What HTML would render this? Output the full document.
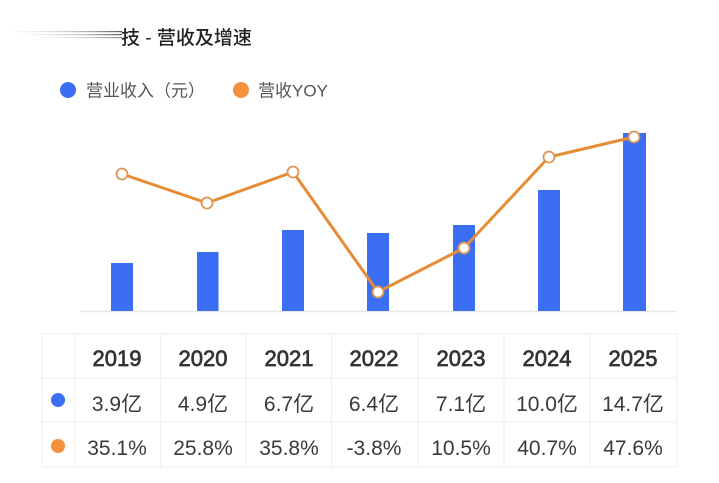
<!DOCTYPE html>
<html>
<head>
<meta charset="utf-8">
<style>
html,body{margin:0;padding:0;background:#fff;}
body{width:719px;height:483px;overflow:hidden;}
svg{display:block;}
text{font-family:"Liberation Sans","Noto Sans CJK SC",sans-serif;}
</style>
</head>
<body>
<svg width="719" height="483" viewBox="0 0 719 483" xmlns="http://www.w3.org/2000/svg">
  <defs>
    <linearGradient id="blur" x1="0" x2="1" y1="0" y2="0">
      <stop offset="0" stop-color="#bbb" stop-opacity="0"/>
      <stop offset="0.6" stop-color="#999" stop-opacity="0.6"/>
      <stop offset="1" stop-color="#444" stop-opacity="0.9"/>
    </linearGradient>
  </defs>
  <!-- blurred title prefix -->
  <rect x="8" y="31" width="114" height="1.2" fill="url(#blur)"/>
  <rect x="20" y="34" width="102" height="1.2" fill="url(#blur)"/>
  <rect x="30" y="37" width="92" height="1.2" fill="url(#blur)" opacity="0.7"/>
  <text x="121" y="44" font-size="19" fill="#222" font-weight="500">技 - 营收及增速</text>

  <!-- legend -->
  <circle cx="68" cy="90" r="8" fill="#3B6EF3"/>
  <text x="86" y="96.5" font-size="17" fill="#555">营业收入（元）</text>
  <circle cx="241" cy="90" r="8" fill="#F5913C"/>
  <text x="258" y="96.5" font-size="17" fill="#555">营收YOY</text>

  <!-- baseline -->
  <line x1="80" y1="311.5" x2="677" y2="311.5" stroke="#e6e8ee" stroke-width="1.5"/>

  <!-- bars -->
  <g fill="#3B6EF3">
    <rect x="111" y="263" width="22" height="48"/>
    <rect x="197" y="252" width="21.5" height="59"/>
    <rect x="282" y="230" width="22" height="81"/>
    <rect x="367" y="233" width="22" height="78"/>
    <rect x="453" y="225" width="22" height="86"/>
    <rect x="538" y="190" width="22" height="121"/>
    <rect x="623" y="133" width="23" height="178"/>
  </g>

  <!-- line -->
  <polyline points="122,174 207,203 293,172 378,292 464,248 549,157 634,137"
    fill="none" stroke="#E68C36" stroke-width="3" stroke-linejoin="round"/>
  <g fill="#fff" stroke="#DC9555" stroke-width="1.8">
    <circle cx="122" cy="174" r="5.5"/>
    <circle cx="207" cy="203" r="5.5"/>
    <circle cx="293" cy="172" r="5.5"/>
    <circle cx="378" cy="292" r="5.5"/>
    <circle cx="464" cy="248" r="5.5"/>
    <circle cx="549" cy="157" r="5.5"/>
    <circle cx="634" cy="137" r="5.5"/>
  </g>

  <!-- table -->
  <g stroke="#f0f0f0" stroke-width="1.2" fill="none">
    <rect x="42" y="334" width="635" height="133"/>
    <line x1="42" y1="378" x2="677" y2="378"/>
    <line x1="42" y1="422" x2="677" y2="422"/>
    <line x1="75" y1="334" x2="75" y2="467"/>
    <line x1="160.5" y1="334" x2="160.5" y2="467"/>
    <line x1="246" y1="334" x2="246" y2="467"/>
    <line x1="331.5" y1="334" x2="331.5" y2="467"/>
    <line x1="418" y1="334" x2="418" y2="467"/>
    <line x1="504" y1="334" x2="504" y2="467"/>
    <line x1="590" y1="334" x2="590" y2="467"/>
  </g>
  <circle cx="58" cy="400" r="7" fill="#3B6EF3"/>
  <circle cx="58" cy="446" r="7" fill="#F5913C"/>

  <g font-size="22" fill="#333" stroke="#333" stroke-width="0.7" text-anchor="middle">
    <text x="117" y="366">2019</text>
    <text x="203" y="366">2020</text>
    <text x="289" y="366">2021</text>
    <text x="374" y="366">2022</text>
    <text x="461" y="366">2023</text>
    <text x="547" y="366">2024</text>
    <text x="633" y="366">2025</text>
  </g>
  <g font-size="21" fill="#3a3a3a" text-anchor="middle">
    <text x="117" y="411">3.9亿</text>
    <text x="203" y="411">4.9亿</text>
    <text x="289" y="411">6.7亿</text>
    <text x="374" y="411">6.4亿</text>
    <text x="461" y="411">7.1亿</text>
    <text x="547" y="411">10.0亿</text>
    <text x="633" y="411">14.7亿</text>
  </g>
  <g font-size="21" fill="#3a3a3a" text-anchor="middle">
    <text x="117" y="455">35.1%</text>
    <text x="203" y="455">25.8%</text>
    <text x="289" y="455">35.8%</text>
    <text x="374" y="455">-3.8%</text>
    <text x="461" y="455">10.5%</text>
    <text x="547" y="455">40.7%</text>
    <text x="633" y="455">47.6%</text>
  </g>
</svg>
</body>
</html>
